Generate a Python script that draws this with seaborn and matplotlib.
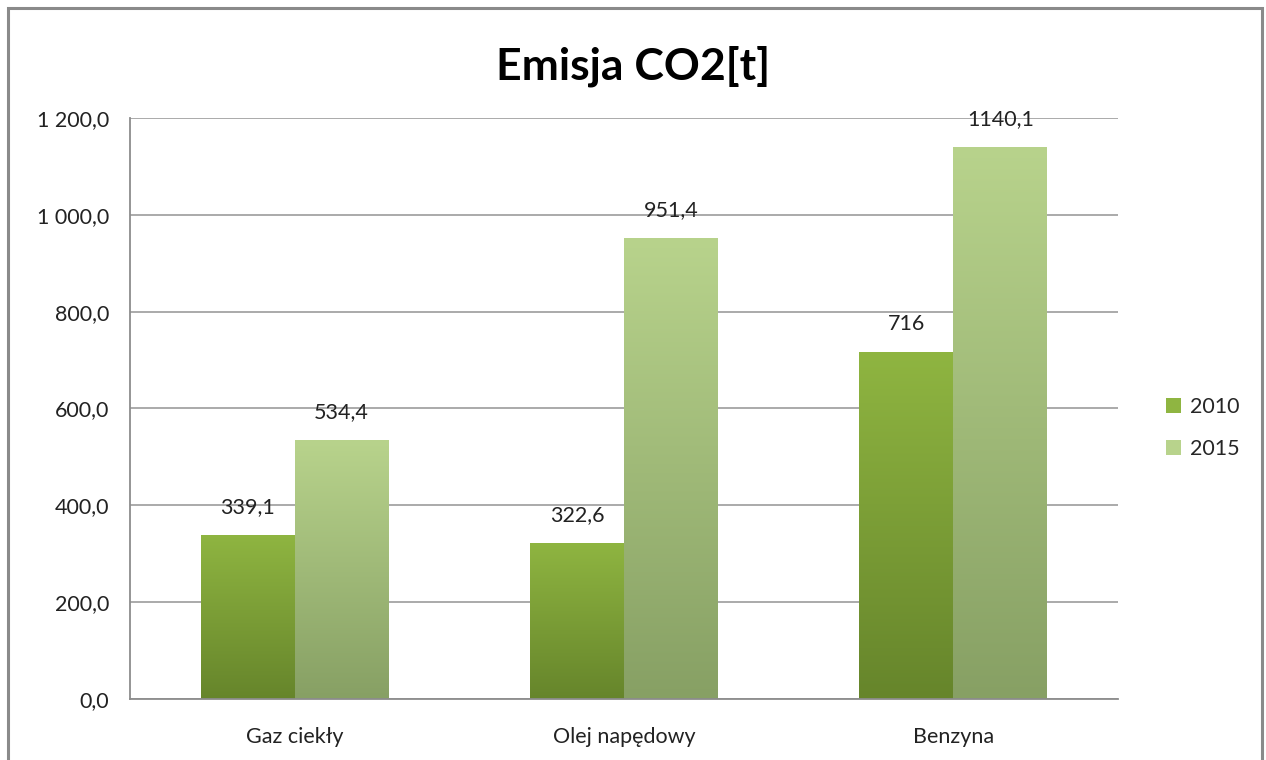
import numpy as np
import pandas as pd
import matplotlib
matplotlib.use('Agg')
import matplotlib.pyplot as plt
import seaborn as sb
from matplotlib.colors import LinearSegmentedColormap
from matplotlib.patches import Rectangle, Patch
from matplotlib.ticker import FuncFormatter

categories = ['Gaz ciekły', 'Olej napędowy', 'Benzyna']
years = ['2010', '2015']
values_2010 = [339.1, 322.6, 716.0]
values_2015 = [534.4, 951.4, 1140.1]
labels_2010 = ['339,1', '322,6', '716']
labels_2015 = ['534,4', '951,4', '1140,1']

df = pd.DataFrame({
    'kategoria': categories * 2,
    'rok': [years[0]] * 3 + [years[1]] * 3,
    'emisja': values_2010 + values_2015,
})

sb.set_style('white')
plt.rcParams['font.family'] = ['Lato', 'DejaVu Sans']

fig = plt.figure(figsize=(12.66, 7.6), dpi=100)
ax = fig.add_axes([0.1027, 0.0803, 0.7804, 0.7645])

# top / bottom colours of the gradients
grad = {'2010': ('#8fb541', '#66852b'), '2015': ('#b8d38c', '#87a064')}
flat = {'2010': '#7fa33a', '2015': '#a8c27c'}

sb.barplot(data=df, x='kategoria', y='emisja', hue='rok', order=categories,
           hue_order=years, palette=flat, width=0.57, saturation=1,
           edgecolor='none', linewidth=0, ax=ax, legend=False)

# gradient fill clipped to every bar
for container, yr, labs in zip(ax.containers, years, [labels_2010, labels_2015]):
    cmap = LinearSegmentedColormap.from_list(yr, [grad[yr][1], grad[yr][0]])
    for bar, lab in zip(container, labs):
        x0, w, h = bar.get_x(), bar.get_width(), bar.get_height()
        img = ax.imshow(np.linspace(0, 1, 256).reshape(-1, 1), cmap=cmap,
                        extent=[x0, x0 + w, 0, h], origin='lower',
                        aspect='auto', zorder=bar.get_zorder(),
                        interpolation='bicubic')
        img.set_clip_path(bar)
        bar.set_alpha(0)
        ax.annotate(lab, (x0 + w / 2, h), xytext=(0, 13),
                    textcoords='offset points', ha='center', va='bottom',
                    fontsize=15.5, color='#222222')
ax.set_xlim(-0.5, 2.5)
ax.set_ylim(0, 1200)
ax.set_aspect('auto')

ax.set_yticks(np.arange(0, 1201, 200))
ax.yaxis.set_major_formatter(FuncFormatter(
    lambda v, p: f'{v:,.1f}'.replace(',', ' ').replace('.', ',')))
ax.grid(axis='y', color='#9c9c9c', linewidth=1.2)
ax.set_axisbelow(True)
for s in ['top', 'right']:
    ax.spines[s].set_visible(False)
for s in ['left', 'bottom']:
    ax.spines[s].set_color('#8c8c8c')
    ax.spines[s].set_linewidth(1.3)
ax.tick_params(axis='both', labelsize=15.5, colors='#222222', length=0)
ax.tick_params(axis='y', pad=15)
ax.tick_params(axis='x', pad=20)
ax.set_xlabel('')
ax.set_ylabel('')

fig.text(0.5, 0.913, 'Emisja CO2[t]', ha='center', va='center',
         fontsize=32, fontweight='bold', color='black')

handles = [Patch(facecolor=grad[y][0], edgecolor='none') for y in years]
fig.legend(handles, years, loc='center left', bbox_to_anchor=(0.906, 0.437),
           frameon=False, fontsize=15.5, handlelength=0.7, handleheight=0.7,
           handletextpad=0.4, labelspacing=1.0)

fig.patches.append(Rectangle((0.006, -0.01), 0.9905, 1.0, transform=fig.transFigure,
                             fill=False, edgecolor='#8a8a8a', linewidth=2.2))

plt.savefig('out.png', dpi=100)
